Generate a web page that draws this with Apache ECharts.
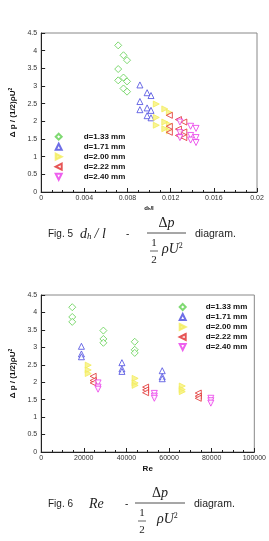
<!DOCTYPE html>
<html><head><meta charset="utf-8">
<script src="https://cdn.jsdelivr.net/npm/echarts@6/dist/echarts.min.js"></script>
<style>html,body{margin:0;padding:0;background:#fff}#c{width:269px;height:541px}</style>
</head><body><div id="c"></div>
<script>
// ---- data ----
const seriesNames = ['d=1.33 mm','d=1.71 mm','d=2.00 mm','d=2.22 mm','d=2.40 mm'];
// d_h/l values (one per tube length) for each diameter
const dhl_133 = [0.00714, 0.00763, 0.00796];
const dhl_171 = [0.00915, 0.00982, 0.01018];
const dhl_200 = [0.01067, 0.01146, 0.01188];
const dhl_222 = [0.01188, 0.01272, 0.01322];
const dhl_240 = [0.01286, 0.01385, 0.01435];
// Reynolds numbers (one per flow velocity) for each diameter
const re_133 = [14600, 29200, 43900];
const re_171 = [18900, 37900, 56800];
const re_200 = [22100, 44100, 66200];
const re_222 = [24400, 49000, 73700];
const re_240 = [26700, 53100, 79600];
// dp/(1/2 rho U^2): rows = length index (d_h/l), cols = velocity index (Re)
const dp_133 = [[4.15,3.48,3.16],[3.87,3.24,2.93],[3.73,3.13,2.84]];
const dp_171 = [[3.03,2.56,2.33],[2.81,2.38,2.16],[2.73,2.31,2.10]];
const dp_200 = [[2.49,2.11,1.89],[2.35,1.98,1.79],[2.25,1.91,1.73]];
const dp_222 = [[2.17,1.86,1.69],[2.05,1.78,1.60],[1.98,1.70,1.54]];
const dp_240 = [[1.98,1.68,1.54],[1.86,1.60,1.47],[1.80,1.54,1.40]];
const xTicks1 = [0, 0.004, 0.008, 0.012, 0.016, 0.02];
const xTicks2 = [0, 20000, 40000, 60000, 80000, 100000];

const dhlSets = [dhl_133, dhl_171, dhl_200, dhl_222, dhl_240];
const reSets = [re_133, re_171, re_200, re_222, re_240];
const dpSets = [dp_133, dp_171, dp_200, dp_222, dp_240];

const colors = ['#5fcf4f','#4a4ae0','#f2ec5a','#e02a2a','#ea38ea'];
const symbols = ['diamond','triangle','path://M0,0 L10,5 L0,10 Z','path://M10,0 L0,5 L10,10 Z','path://M0,0 L10,0 L5,10 Z'];
const fills = ['#fff','#fff','#f6f07a','#fff','#fff'];
const sizes = [7,6,6,6,6];

function pts1(k){const o=[];for(let i=0;i<3;i++)for(let j=0;j<3;j++)o.push([dhlSets[k][i],dpSets[k][i][j]]);return o;}
function pts2(k){const o=[];for(let i=0;i<3;i++)for(let j=0;j<3;j++)o.push([reSets[k][j],dpSets[k][i][j]]);return o;}

const series=[];
for(let k=0;k<5;k++){
  const st={color:fills[k],borderColor:colors[k],borderWidth:1};
  series.push({name:seriesNames[k],type:'scatter',xAxisIndex:0,yAxisIndex:0,symbol:symbols[k],symbolSize:sizes[k],itemStyle:st,data:pts1(k),z:3});
  series.push({name:seriesNames[k],type:'scatter',xAxisIndex:1,yAxisIndex:1,symbol:symbols[k],symbolSize:sizes[k],itemStyle:st,data:pts2(k),z:3});
}

const lblFont = {fontSize:7,color:'#333',fontFamily:'Liberation Sans'};
function yAxis(idx){
  return {gridIndex:idx,type:'value',min:0,max:4.5,interval:0.5,
    axisLine:{show:true,lineStyle:{color:'#222',width:1}},
    axisTick:{inside:true,length:4,lineStyle:{color:'#222'}},
    minorTick:{show:false},splitLine:{show:false},
    axisLabel:Object.assign({margin:4},lblFont),
    name:'{b|Δ p / (1/2)ρU}{s|2}',nameLocation:'middle',nameGap:21,
    nameTextStyle:{rich:{b:{fontSize:8,fontWeight:'bold',fontFamily:'Liberation Sans',color:'#111'},s:{fontSize:5,fontWeight:'bold',fontFamily:'Liberation Sans',color:'#111',verticalAlign:'top',padding:[0,0,4,0]}}}
  };
}
const xAxes=[
  {gridIndex:0,type:'value',min:xTicks1[0],max:xTicks1[xTicks1.length-1],interval:xTicks1[1],
   axisLine:{lineStyle:{color:'#222',width:1}},
   axisTick:{inside:true,length:4,lineStyle:{color:'#222'}},
   minorTick:{show:true,splitNumber:4,length:2,lineStyle:{color:'#222'}},
   splitLine:{show:false},minorSplitLine:{show:false},
   axisLabel:Object.assign({margin:3,formatter:v=>String(+v.toFixed(4))},lblFont),
   name:'{a|d}{h|h}{a|/l}',nameLocation:'middle',nameGap:13,
   nameTextStyle:{rich:{a:{fontSize:6,fontWeight:'bold',fontFamily:'Liberation Sans',color:'#111'},h:{fontSize:4,fontWeight:'bold',fontFamily:'Liberation Sans',color:'#111',verticalAlign:'bottom'}}}},
  {gridIndex:1,type:'value',min:xTicks2[0],max:xTicks2[xTicks2.length-1],interval:xTicks2[1],
   axisLine:{lineStyle:{color:'#222',width:1}},
   axisTick:{inside:true,length:4,lineStyle:{color:'#222'}},
   minorTick:{show:true,splitNumber:4,length:2,lineStyle:{color:'#222'}},
   splitLine:{show:false},
   axisLabel:Object.assign({margin:3,formatter:v=>String(v)},lblFont),
   name:'Re',nameLocation:'middle',nameGap:13,
   nameTextStyle:{fontSize:8,fontWeight:'bold',fontFamily:'Liberation Sans',color:'#111'}}
];

const legTxt={fontSize:8,fontWeight:'bold',fontFamily:'Liberation Sans',color:'#111',lineHeight:10};
const capFont='10px "Liberation Sans"';
const mathI='italic 14px "Liberation Serif"';
const mathR='14px "Liberation Serif"';
function caption(y, fig, lead, leadX, fracX0, fracX1, oneX, rhoX){
  const T=(text,x,yy,font,align)=>({type:'text',x:x,y:yy,style:{text:text,font:font,fill:'#222',textAlign:align||'left',textVerticalAlign:'middle'}});
  const L=(x1,x2,yy,w)=>({type:'line',shape:{x1:x1,y1:yy,x2:x2,y2:yy},style:{stroke:'#222',lineWidth:w||0.8}});
  const cx=(fracX0+fracX1)/2;
  return [
    T(fig,48,y+1,capFont),
    lead, 
    T('-',leadX,y+1,capFont),
    {type:'text',x:cx,y:y-10,style:{rich:{r:{font:mathR,fill:'#222'},i:{font:mathI,fill:'#222'}},text:'{r|Δ}{i|p}',textAlign:'center',textVerticalAlign:'middle'}},
    L(fracX0,fracX1,y),
    T('1',oneX,y+10,'11px "Liberation Serif"','center'),
    L(oneX-4,oneX+4,y+18,0.7),
    T('2',oneX,y+27,'11px "Liberation Serif"','center'),
    {type:'text',x:rhoX,y:y+16,style:{rich:{i:{font:mathI,fill:'#222'},s:{font:'8px "Liberation Serif"',fill:'#222',verticalAlign:'top',padding:[0,0,7,0]}},text:'{i|ρU}{s|2}',textAlign:'left',textVerticalAlign:'middle'}},
    T('diagram.',fracX1+9,y+1,'10.5px "Liberation Sans"')
  ];
}
const g1 = caption(233,'Fig. 5',
  {type:'text',x:80,y:234,style:{rich:{i:{font:mathI,fill:'#222'},l:{font:mathI,fill:'#222',padding:[0,0,0,2]},h:{font:'italic 9px "Liberation Serif"',fill:'#222',verticalAlign:'bottom',padding:[5,1,0,0]}},text:'{i|d}{h|h}{l|/ l}',textVerticalAlign:'middle'}},
  126,147,186,154,162);
const g2 = caption(503,'Fig. 6',
  {type:'text',x:89,y:504,style:{text:'Re',font:mathI,fill:'#222',textVerticalAlign:'middle'}},
  125,135,185,142,157);

const chart=echarts.init(document.getElementById('c'),null,{renderer:'canvas'});
chart.setOption({
  animation:false,
  backgroundColor:'#fff',
  grid:[
    {left:37,top:33,width:220,height:159,show:true,borderColor:'#888',borderWidth:1,backgroundColor:'transparent'},
    {left:37,top:295,width:220,height:157,show:true,borderColor:'#888',borderWidth:1,backgroundColor:'transparent'}
  ],
  xAxis:xAxes,
  yAxis:[yAxis(0),yAxis(1)],
  legend:[
    {orient:'vertical',left:54.7,top:131.7,padding:0,itemWidth:6,itemHeight:6,itemGap:0,textStyle:Object.assign({padding:[0,0,0,17]},legTxt),data:seriesNames,selectedMode:false},
    {orient:'vertical',left:178.7,top:302,padding:0,itemWidth:6,itemHeight:6,itemGap:0,textStyle:Object.assign({padding:[0,0,0,15]},legTxt),data:seriesNames,selectedMode:false}
  ],
  graphic:g1.concat(g2),
  series:series
});
</script></body></html>
